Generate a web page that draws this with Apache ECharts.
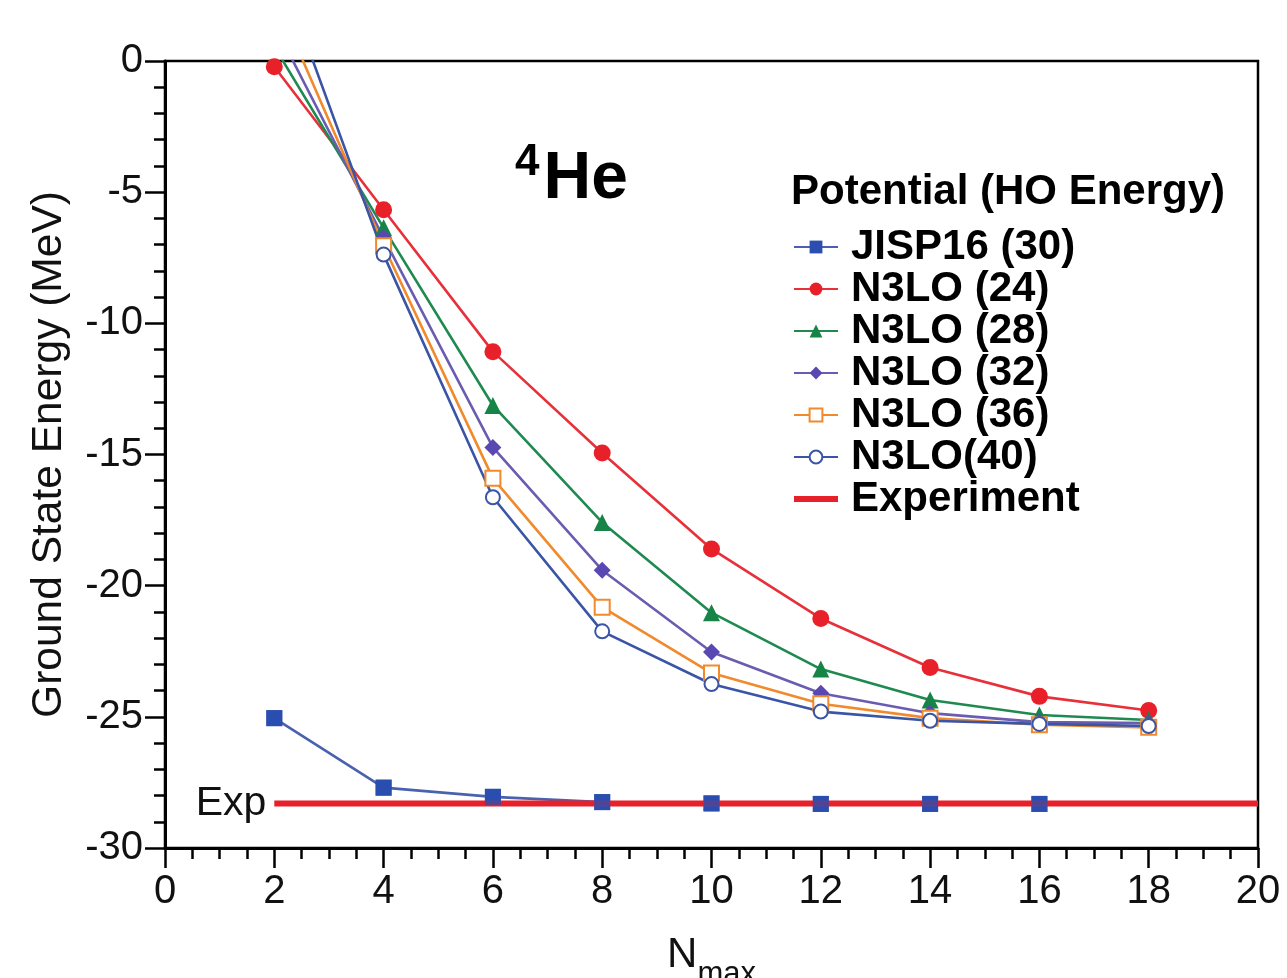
<!DOCTYPE html>
<html>
<head>
<meta charset="utf-8">
<script src="https://cdn.jsdelivr.net/npm/echarts@6/dist/echarts.min.js"></script>
<style>
html,body{margin:0;padding:0;background:#fff;overflow:hidden;}
#chart{width:1287px;height:978px;}
</style>
</head>
<body>
<div id="chart"></div>
<script>
// ---- data ----
const nmax = [2, 4, 6, 8, 10, 12, 14, 16, 18];
const nmaxJisp = [2, 4, 6, 8, 10, 12, 14, 16];
const jisp16 = [-25.05, -27.7, -28.05, -28.25, -28.3, -28.32, -28.32, -28.32];
const n3lo24 = [-0.22, -5.67, -11.08, -14.94, -18.6, -21.25, -23.12, -24.22, -24.76];
const n3lo28 = [0.55, -6.36, -13.13, -17.59, -21.03, -23.18, -24.36, -24.93, -25.12];
const n3lo32 = [1.39, -6.74, -14.73, -19.41, -22.53, -24.1, -24.86, -25.2, -25.24];
const n3lo36 = [2.51, -7.04, -15.91, -20.82, -23.33, -24.5, -25.05, -25.3, -25.4];
const n3lo40 = [4.04, -7.38, -16.63, -21.74, -23.75, -24.8, -25.15, -25.27, -25.35];
const expEnergy = -28.3;
const expRange = [2, 20];
const seriesNames = ['JISP16 (30)', 'N3LO (24)', 'N3LO (28)', 'N3LO (32)', 'N3LO (36)', 'N3LO(40)', 'Experiment'];

const pair = (xs, ys) => xs.map((x, i) => [x, ys[i]]);
const FONT = '"Liberation Sans", Arial, Helvetica, sans-serif';

const chart = echarts.init(document.getElementById('chart'), null, {renderer: 'canvas', width: 1287, height: 978});

function lineSeries(name, xs, ys, color, lineColor, symbol, size, fill, z) {
  return {
    name: name, type: 'line', data: pair(xs, ys), clip: true, z: z || 2,
    symbol: symbol, symbolSize: size,
    lineStyle: {color: lineColor, width: 2.6},
    itemStyle: {color: fill, borderColor: color, borderWidth: fill === '#fff' ? 2 : 0},
    emphasis: {disabled: true}
  };
}

const legendData = seriesNames.map(n => n === 'Experiment'
  ? {name: n, icon: 'path://M0,0 L44,0 L44,6 L0,6 Z', itemStyle: {color: '#E8202A'}}
  : {name: n});

const option = {
  animation: false,
  backgroundColor: '#fff',
  title: [
    {
      text: '{sup|4}{he|He}',
      left: 510, top: 136,
      textStyle: {
        rich: {
          sup: {fontFamily: FONT, fontWeight: 'bold', fontSize: 44, color: '#000', verticalAlign: 'top', lineHeight: 72, padding: [0, 4, 0, 0]},
          he: {fontFamily: FONT, fontWeight: 'bold', fontSize: 66, color: '#000', verticalAlign: 'bottom', lineHeight: 72}
        }
      }
    },
    {
      text: 'Potential (HO Energy)',
      left: 786, top: 166,
      textStyle: {fontFamily: FONT, fontWeight: 'bold', fontSize: 42, color: '#000'}
    }
  ],
  legend: {
    data: legendData,
    orient: 'vertical',
    left: 788, top: 221,
    itemWidth: 44, itemHeight: 16, itemGap: 0,
    textStyle: {fontFamily: FONT, fontWeight: 'bold', fontSize: 42, color: '#000', lineHeight: 38, padding: [0, 0, 0, 8]},
    selectedMode: false
  },
  grid: {
    left: 165, top: 61, width: 1093, height: 787,
    containLabel: false, outerBoundsMode: 'none',
    show: true, borderColor: '#000', borderWidth: 2.5, backgroundColor: 'transparent'
  },
  xAxis: {
    type: 'value', min: 0, max: 20, interval: 2,
    name: '{n|N}{s|max}', nameLocation: 'middle', nameGap: 86,
    nameTextStyle: {
      rich: {
        n: {fontFamily: FONT, fontSize: 42, color: '#111', verticalAlign: 'top', lineHeight: 56},
        s: {fontFamily: FONT, fontSize: 31, color: '#111', verticalAlign: 'bottom', lineHeight: 56, padding: [9, 0, 0, 0]}
      }
    },
    axisLine: {show: true, onZero: false, lineStyle: {color: '#000', width: 3}},
    axisTick: {show: true, inside: false, length: 20, lineStyle: {color: '#000', width: 2.5}},
    minorTick: {show: true, splitNumber: 4, length: 11, lineStyle: {color: '#000', width: 2.5}},
    axisLabel: {fontFamily: FONT, fontSize: 40, color: '#111', margin: 24},
    splitLine: {show: false}
  },
  yAxis: {
    type: 'value', min: -30, max: 0, interval: 5,
    name: 'Ground State Energy (MeV)', nameLocation: 'middle', nameGap: 94, nameRotate: 90,
    nameTextStyle: {fontFamily: FONT, fontSize: 42.5, color: '#111'},
    axisLine: {show: true, onZero: false, lineStyle: {color: '#000', width: 3}},
    axisTick: {show: true, inside: false, length: 20, lineStyle: {color: '#000', width: 2.5}},
    minorTick: {show: true, splitNumber: 5, length: 11, lineStyle: {color: '#000', width: 2.5}},
    axisLabel: {fontFamily: FONT, fontSize: 40, color: '#111', margin: 22},
    splitLine: {show: false}
  },
  series: [
    lineSeries('JISP16 (30)', nmaxJisp, jisp16, '#2B4EB0', '#4A62AE', 'rect', 16, '#2B4EB0', 2),
    lineSeries('N3LO (24)', nmax, n3lo24, '#E8202A', '#E8303A', 'circle', 17, '#E8202A', 6),
    lineSeries('N3LO (28)', nmax, n3lo28, '#168447', '#1E8A50', 'triangle', 17, '#168447', 6),
    lineSeries('N3LO (32)', nmax, n3lo32, '#5A48B2', '#6A5CB0', 'diamond', 17, '#5A48B2', 6),
    lineSeries('N3LO (36)', nmax, n3lo36, '#F08A2C', '#F08A2C', 'rect', 15, '#fff', 6),
    lineSeries('N3LO(40)', nmax, n3lo40, '#3A55A6', '#3A55A6', 'circle', 14, '#fff', 6),
    {
      name: 'Experiment', type: 'line', z: 3, symbol: 'circle', symbolSize: 0, showSymbol: true, clip: true,
      data: [
        {value: [expRange[0], expEnergy], label: {show: true, position: 'left', formatter: 'Exp', distance: 8,
          fontFamily: FONT, fontSize: 41, color: '#111'}},
        [expRange[1], expEnergy]
      ],
      lineStyle: {color: '#E8202A', width: 6},
      itemStyle: {color: '#E8202A'},
      emphasis: {disabled: true}
    },
    {
      name: 'JISP16 (30)', type: 'scatter', z: 4, symbol: 'rect', symbolSize: 16,
      data: pair(nmaxJisp, jisp16),
      itemStyle: {color: '#2B4EB0'},
      emphasis: {disabled: true}
    }
  ]
};
chart.setOption(option);
</script>
</body>
</html>
